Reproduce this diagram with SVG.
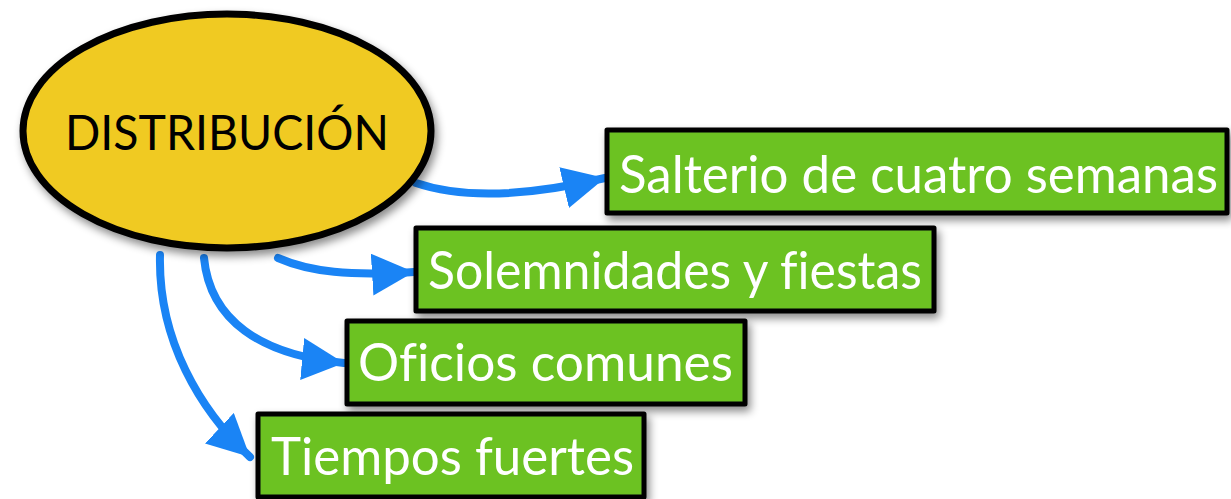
<svg xmlns="http://www.w3.org/2000/svg" width="1231" height="499" viewBox="0 0 1231 499">
<style>
.box{fill:#6CC224;stroke:#000;stroke-width:5;stroke-linejoin:round}
.lbl{font-family:Lato,"Open Sans","Liberation Sans",sans-serif;font-size:53px;fill:#fff;font-variant-ligatures:none}
.conn{fill:none;stroke:#1A84F5;stroke-width:8;stroke-linecap:round}
</style>
<defs>
<filter id="sh" x="-10%" y="-10%" width="130%" height="140%">
<feDropShadow dx="3" dy="5" stdDeviation="4" flood-color="#000" flood-opacity="0.45"/>
</filter>
<marker id="ah" markerUnits="userSpaceOnUse" markerWidth="44" markerHeight="44" refX="42" refY="21" orient="auto" viewBox="0 0 44 44">
<path d="M0,0 L42,21 L0,42 z" fill="#1A84F5"/>
</marker>
</defs>
<g id="connectors">
<path class="conn" d="M416,183 C460,198 520,198 605,178" marker-end="url(#ah)"/>
<path class="conn" d="M278,258 C310,272 350,276 414,272" marker-end="url(#ah)"/>
<path class="conn" d="M204,258 C210,320 260,355 344,363" marker-end="url(#ah)"/>
<path class="conn" d="M160,255 C158,340 200,410 250,457" marker-end="url(#ah)"/>
</g>
<g id="distribucion">
<ellipse cx="227" cy="131" rx="204" ry="117" fill="#F0CA22" stroke="#000" stroke-width="7" filter="url(#sh)"/>
<text x="65" y="150" font-family="Lato,'Open Sans','Liberation Sans',sans-serif" font-size="49" fill="#000" textLength="324" lengthAdjust="spacingAndGlyphs">DISTRIBUCIÓN</text>
</g>
<g id="salterio">
<rect class="box" x="607" y="130" width="620" height="83" filter="url(#sh)"/>
<text class="lbl" x="619" y="193" textLength="599" lengthAdjust="spacingAndGlyphs">Salterio de cuatro semanas</text>
</g>
<g id="solemnidades">
<rect class="box" x="416" y="228" width="518" height="83" filter="url(#sh)"/>
<text class="lbl" x="428" y="289" textLength="494" lengthAdjust="spacingAndGlyphs">Solemnidades y fiestas</text>
</g>
<g id="oficios">
<rect class="box" x="347" y="321" width="398" height="83" filter="url(#sh)"/>
<text class="lbl" x="358" y="381" textLength="375" lengthAdjust="spacingAndGlyphs">Oficios comunes</text>
</g>
<g id="tiempos">
<rect class="box" x="258" y="414" width="386" height="83" filter="url(#sh)"/>
<text class="lbl" x="271" y="475" textLength="363" lengthAdjust="spacingAndGlyphs">Tiempos fuertes</text>
</g>
</svg>
